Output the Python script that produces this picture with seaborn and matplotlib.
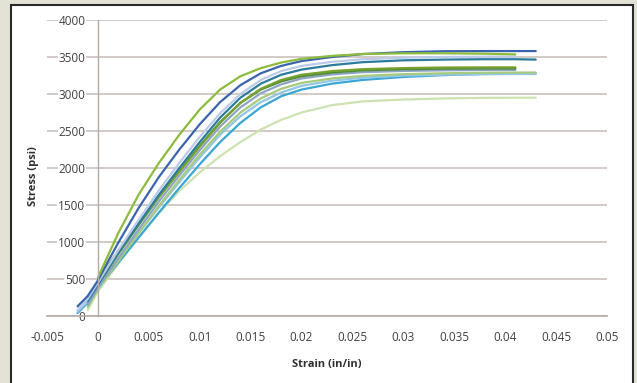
import numpy as np
import pandas as pd
import seaborn as sns
import matplotlib.pyplot as plt
from matplotlib.patches import Rectangle

# strain grid (in/in) shared by all specimens
strain = [-0.002, -0.001, 0.000, 0.001, 0.002, 0.004, 0.006, 0.008, 0.010, 0.012, 0.014,
          0.016, 0.018, 0.020, 0.023, 0.026, 0.030, 0.034, 0.038, 0.041, 0.043]
nan = np.nan

# stress (psi) for each specimen
stress_green = [nan, nan, 520, 820, 1120, 1640, 2070, 2450, 2790, 3060, 3240,
                3350, 3425, 3475, 3515, 3540, 3550, 3550, 3545, 3535, nan]
stress_blue = [130, 270, 480, 740, 990, 1460, 1880, 2250, 2590, 2890, 3120,
               3280, 3380, 3445, 3500, 3540, 3565, 3578, 3580, 3580, 3580]
stress_lavender = [80, 230, 450, 670, 890, 1300, 1700, 2070, 2420, 2740, 3000,
                   3190, 3310, 3380, 3435, 3470, 3490, 3500, 3505, 3505, nan]
stress_teal = [nan, 200, 420, 640, 860, 1250, 1640, 2000, 2350, 2680, 2950,
               3140, 3260, 3330, 3390, 3430, 3455, 3465, 3470, 3470, 3465]
stress_darkgreen = [nan, nan, 430, 630, 840, 1230, 1610, 1960, 2300, 2620, 2880,
                    3060, 3170, 3240, 3290, 3320, 3335, 3342, 3345, 3345, nan]
stress_olive = [nan, nan, 500, 690, 880, 1250, 1610, 1950, 2290, 2610, 2880,
                3070, 3190, 3260, 3310, 3335, 3350, 3358, 3360, 3360, nan]
stress_steel = [nan, 150, 380, 580, 780, 1170, 1550, 1900, 2240, 2560, 2820,
                3010, 3130, 3210, 3265, 3295, 3312, 3320, 3325, 3325, nan]
stress_lightgreen = [nan, 120, 360, 550, 740, 1120, 1490, 1840, 2180, 2490, 2750,
                     2940, 3070, 3150, 3210, 3245, 3268, 3280, 3287, 3290, 3290]
stress_sky = [60, 200, 400, 580, 760, 1120, 1470, 1810, 2140, 2450, 2700,
              2890, 3020, 3110, 3180, 3220, 3248, 3260, 3267, 3270, 3270]
stress_cyan = [40, 180, 380, 550, 720, 1060, 1400, 1730, 2050, 2350, 2610,
               2820, 2970, 3060, 3140, 3190, 3230, 3255, 3272, 3280, 3280]
stress_pale = [nan, 80, 330, 520, 710, 1060, 1390, 1690, 1940, 2160, 2350,
               2520, 2650, 2750, 2850, 2900, 2925, 2940, 2948, 2950, 2950]

series = {
    "pale": stress_pale, "cyan": stress_cyan, "sky": stress_sky,
    "lightgreen": stress_lightgreen, "steel": stress_steel,
    "darkgreen": stress_darkgreen, "olive": stress_olive,
    "teal": stress_teal, "lavender": stress_lavender,
    "blue": stress_blue, "green": stress_green,
}
colors = {
    "pale": "#cde2b0", "cyan": "#3aa6d4", "sky": "#92c6e6",
    "lightgreen": "#a6cb7e", "steel": "#8ea4c2", "darkgreen": "#4d8a3c",
    "olive": "#77a12f", "lavender": "#bccbea", "teal": "#2b7c9c",
    "blue": "#3b64ae", "green": "#8dbb3c",
}

rows = []
for name, vals in series.items():
    for s, v in zip(strain, vals):
        rows.append((name, s, v))
df = pd.DataFrame(rows, columns=["specimen", "strain", "stress"]).dropna()

sns.set_style("white")
plt.rcParams["font.family"] = ["Open Sans", "DejaVu Sans"]

fig = plt.figure(figsize=(6.37, 3.83), dpi=100)
fig.patch.set_facecolor("#e3e2d4")
fig.patches.append(Rectangle((11 / 637, -0.01), 622 / 637, 1 - 5 / 383 + 0.01,
                             transform=fig.transFigure, facecolor="white",
                             edgecolor="#2a2a2a", linewidth=1.5, zorder=-5))

ax = fig.add_axes([47 / 637, 1 - 316 / 383, 560 / 637, 296 / 383])
ax.set_zorder(1)
ax.patch.set_alpha(0)

sns.lineplot(data=df, x="strain", y="stress", hue="specimen", palette=colors,
             estimator=None, sort=False, legend=False, linewidth=1.6, ax=ax)

ax.set_xlim(-0.005, 0.05)
ax.set_ylim(0, 4000)
xt = np.arange(-0.005, 0.0501, 0.005)
ax.set_xticks(xt)
ax.set_xticklabels([f"{v:g}" if abs(v) > 1e-9 else "0" for v in xt])
ax.set_yticks(range(0, 4001, 500))

ax.set_axisbelow(True)
ax.grid(axis="y", color="#c9c1bc", linewidth=1.2)
ax.grid(axis="x", visible=False)

for sp in ["top", "right"]:
    ax.spines[sp].set_visible(False)
ax.spines["left"].set_position(("data", 0))
ax.spines["left"].set_color("#b3aba6")
ax.spines["bottom"].set_color("#b3aba6")
ax.spines["left"].set_linewidth(1.0)
ax.spines["bottom"].set_linewidth(1.2)

ax.tick_params(axis="x", direction="out", length=4, width=1, color="#b3aba6",
               labelsize=8.5, labelcolor="#404040", pad=7)
ax.tick_params(axis="y", direction="out", length=3, width=1, color="#b3aba6",
               labelsize=8.5, labelcolor="#404040", pad=6)
for t in ax.yaxis.get_major_ticks():
    t.label1.set_bbox(dict(facecolor="white", edgecolor="none", pad=0.6))

ax.set_xlabel("Strain (in/in)", fontsize=8, fontweight="bold", color="#303030")
ax.set_ylabel("Stress (psi)", fontsize=8, fontweight="bold", color="#303030")
ax.xaxis.set_label_coords(0.5, -0.145)
ax.yaxis.set_label_coords(-0.014, 0.473)

fig.savefig("out.png", dpi=100, facecolor=fig.get_facecolor())
